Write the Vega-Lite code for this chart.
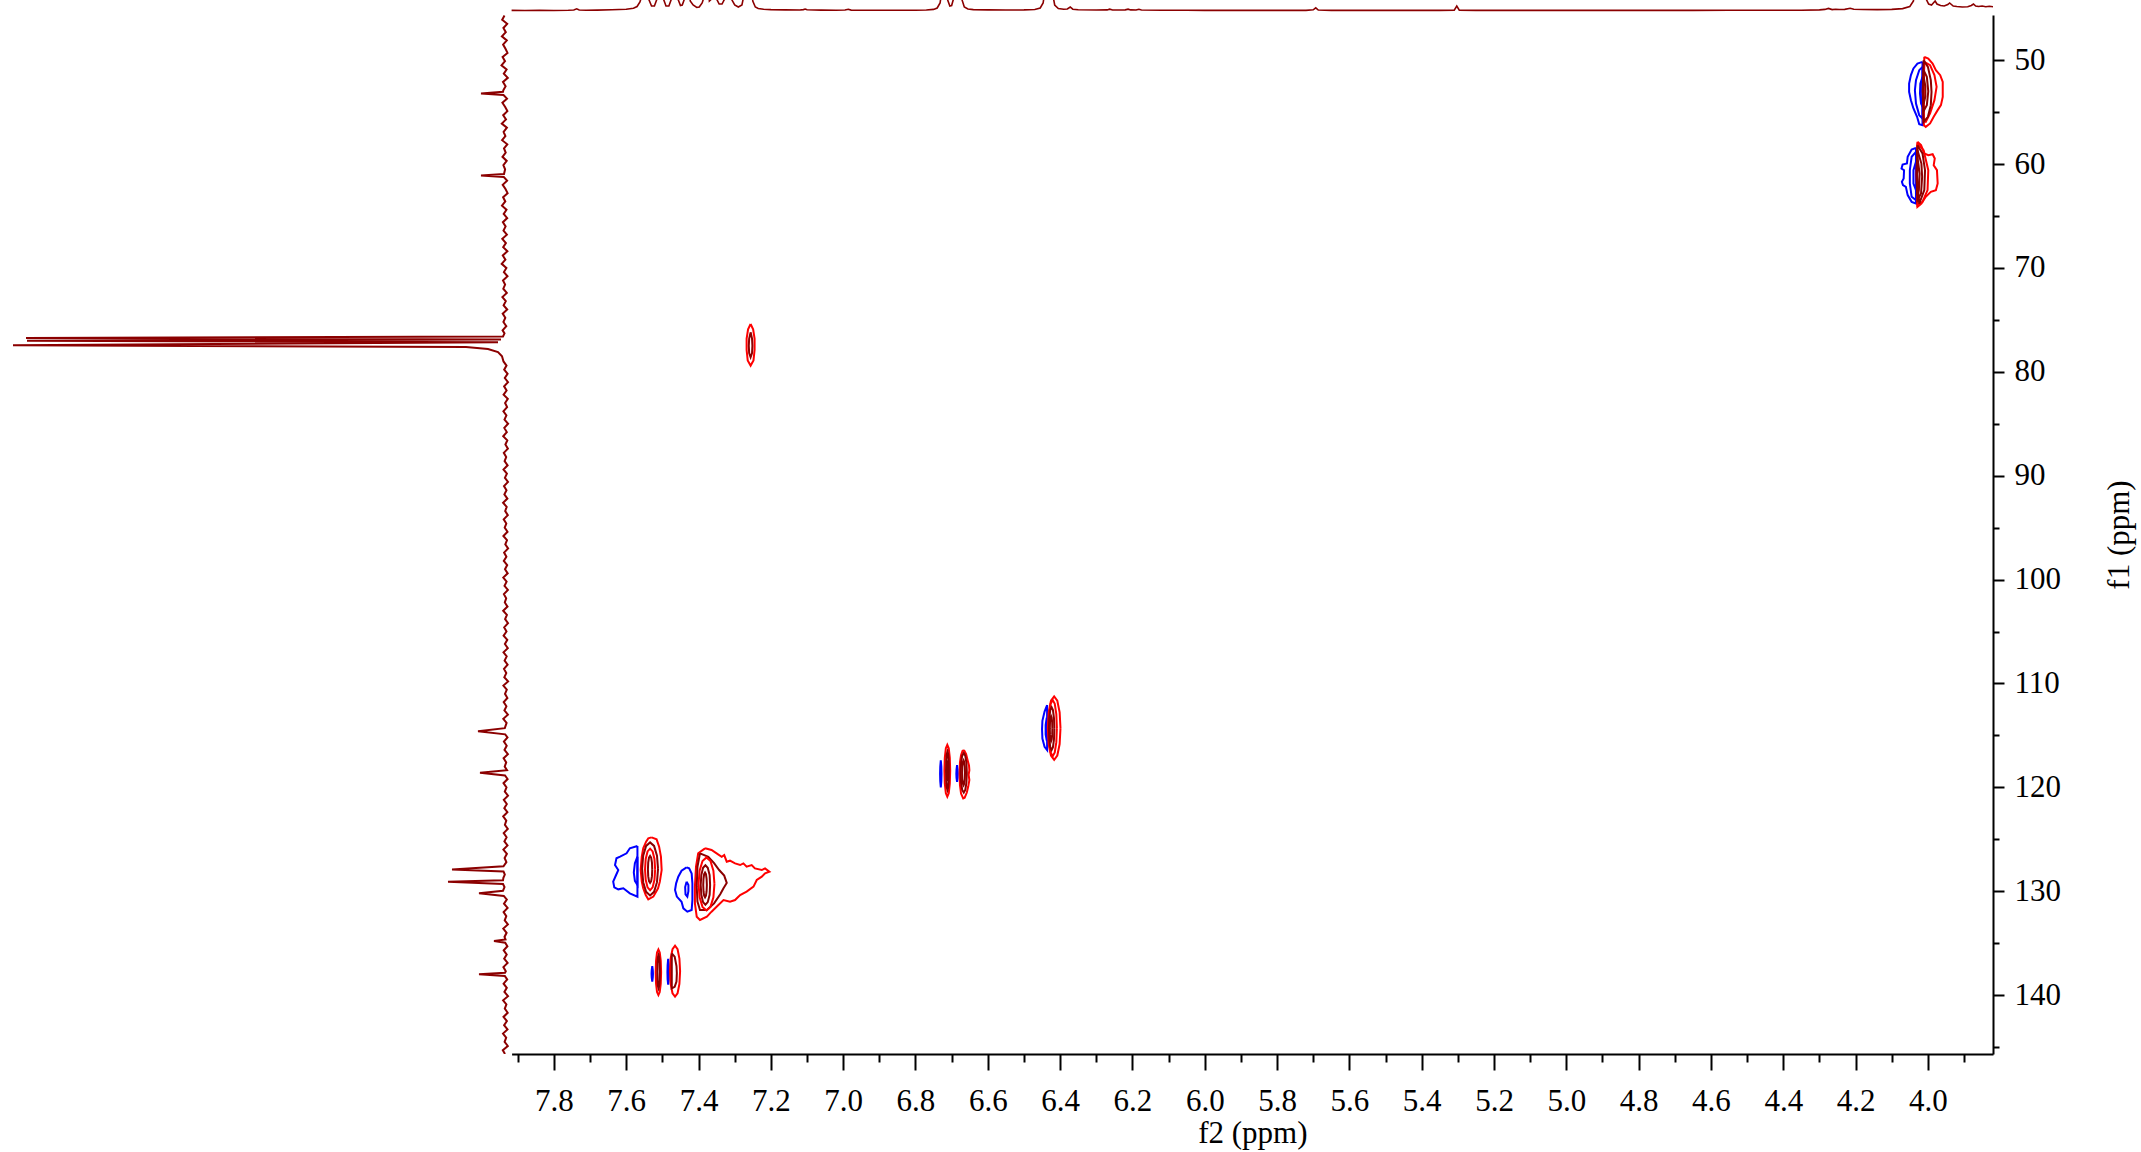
{
"$schema": "https://vega.github.io/schema/vega-lite/v6.json",
"width": 1993, "height": 1054,
"autosize": {"type": "none"},
"padding": {"left": 0, "top": 0, "right": 148, "bottom": 98},
"background": "white",
"config": {"view": {"stroke": null}, "font": "Liberation Serif"},
"datasets": {
"top": [
{"x":7.917,"v":0.6},{"x":7.88,"v":0.5},{"x":7.84,"v":0.6},{"x":7.80,"v":0.5},{"x":7.76,"v":0.7},{"x":7.745,"v":1.0},{"x":7.737,"v":2.2},{"x":7.73,"v":1.0},{"x":7.71,"v":0.8},{"x":7.68,"v":0.9},{"x":7.64,"v":1.2},{"x":7.60,"v":1.8},{"x":7.58,"v":2.8},{"x":7.57,"v":4.5},{"x":7.562,"v":9},{"x":7.553,"v":20},{"x":7.545,"v":45},{"x":7.538,"v":12},{"x":7.53,"v":5},{"x":7.522,"v":5},{"x":7.513,"v":14},{"x":7.505,"v":45},{"x":7.497,"v":12},{"x":7.49,"v":5},{"x":7.482,"v":5},{"x":7.473,"v":14},{"x":7.465,"v":45},{"x":7.457,"v":12},{"x":7.45,"v":5.5},{"x":7.445,"v":6},{"x":7.437,"v":14},{"x":7.43,"v":45},{"x":7.423,"v":10},{"x":7.415,"v":6},{"x":7.405,"v":3.5},{"x":7.398,"v":4},{"x":7.39,"v":8},{"x":7.383,"v":16},{"x":7.376,"v":45},{"x":7.37,"v":10},{"x":7.364,"v":12},{"x":7.357,"v":45},{"x":7.35,"v":12},{"x":7.343,"v":7},{"x":7.335,"v":7},{"x":7.325,"v":14},{"x":7.317,"v":45},{"x":7.309,"v":12},{"x":7.30,"v":6},{"x":7.29,"v":4},{"x":7.28,"v":6},{"x":7.272,"v":20},{"x":7.266,"v":60},{"x":7.261,"v":30},{"x":7.257,"v":50},{"x":7.25,"v":10},{"x":7.243,"v":4},{"x":7.235,"v":2.5},{"x":7.22,"v":1.8},{"x":7.20,"v":1.4},{"x":7.16,"v":1.1},{"x":7.12,"v":1.0},{"x":7.11,"v":1.4},{"x":7.105,"v":2.0},{"x":7.10,"v":1.2},{"x":7.06,"v":0.9},{"x":7.02,"v":0.8},{"x":6.995,"v":1.0},{"x":6.986,"v":1.7},{"x":6.978,"v":0.9},{"x":6.95,"v":0.7},{"x":6.90,"v":0.7},{"x":6.85,"v":0.7},{"x":6.80,"v":0.8},{"x":6.77,"v":1.0},{"x":6.75,"v":1.6},{"x":6.74,"v":3},{"x":6.732,"v":8},{"x":6.725,"v":25},{"x":6.719,"v":45},{"x":6.712,"v":12},{"x":6.705,"v":5},{"x":6.70,"v":5.5},{"x":6.695,"v":12},{"x":6.689,"v":45},{"x":6.683,"v":20},{"x":6.678,"v":45},{"x":6.672,"v":12},{"x":6.665,"v":4},{"x":6.655,"v":2},{"x":6.64,"v":1.4},{"x":6.60,"v":1.1},{"x":6.55,"v":1.0},{"x":6.50,"v":1.1},{"x":6.47,"v":1.5},{"x":6.455,"v":3},{"x":6.447,"v":8},{"x":6.44,"v":25},{"x":6.434,"v":45},{"x":6.428,"v":45},{"x":6.422,"v":20},{"x":6.415,"v":6},{"x":6.405,"v":2.5},{"x":6.39,"v":1.8},{"x":6.38,"v":2},{"x":6.372,"v":4},{"x":6.365,"v":1.8},{"x":6.35,"v":1.2},{"x":6.30,"v":1.0},{"x":6.27,"v":1.1},{"x":6.263,"v":1.8},{"x":6.255,"v":1.0},{"x":6.22,"v":1.1},{"x":6.212,"v":1.8},{"x":6.205,"v":1.1},{"x":6.19,"v":1.0},{"x":6.182,"v":1.7},{"x":6.175,"v":1.0},{"x":6.12,"v":0.8},{"x":6.05,"v":0.7},{"x":6.00,"v":0.6},{"x":5.90,"v":0.6},{"x":5.80,"v":0.6},{"x":5.72,"v":0.6},{"x":5.70,"v":1.2},{"x":5.693,"v":3.2},{"x":5.686,"v":1.0},{"x":5.65,"v":0.6},{"x":5.55,"v":0.6},{"x":5.45,"v":0.6},{"x":5.35,"v":0.6},{"x":5.31,"v":0.9},{"x":5.303,"v":5},{"x":5.296,"v":0.9},{"x":5.25,"v":0.6},{"x":5.15,"v":0.6},{"x":5.05,"v":0.6},{"x":4.95,"v":0.6},{"x":4.85,"v":0.6},{"x":4.75,"v":0.6},{"x":4.65,"v":0.6},{"x":4.55,"v":0.7},{"x":4.45,"v":0.7},{"x":4.35,"v":0.8},{"x":4.30,"v":1.1},{"x":4.285,"v":1.6},{"x":4.275,"v":2.6},{"x":4.265,"v":1.4},{"x":4.255,"v":1.8},{"x":4.245,"v":1.5},{"x":4.23,"v":1.6},{"x":4.215,"v":2.8},{"x":4.205,"v":1.8},{"x":4.18,"v":1.5},{"x":4.14,"v":1.4},{"x":4.10,"v":1.6},{"x":4.07,"v":2.4},{"x":4.05,"v":4.5},{"x":4.04,"v":10},{"x":4.033,"v":45},{"x":4.027,"v":30},{"x":4.02,"v":45},{"x":4.012,"v":60},{"x":4.005,"v":12},{"x":3.998,"v":7},{"x":3.99,"v":6},{"x":3.985,"v":8},{"x":3.98,"v":10},{"x":3.975,"v":7},{"x":3.965,"v":5.5},{"x":3.955,"v":5},{"x":3.945,"v":6.5},{"x":3.94,"v":8},{"x":3.93,"v":5},{"x":3.92,"v":4.5},{"x":3.905,"v":4},{"x":3.89,"v":4.2},{"x":3.88,"v":5.5},{"x":3.874,"v":7},{"x":3.868,"v":5},{"x":3.86,"v":4.5},{"x":3.85,"v":5},{"x":3.84,"v":4.2},{"x":3.83,"v":4.8},{"x":3.82,"v":4.2}
],
"side": [
{"y":45.7,"v":1.5},{"y":46.1,"v":3.8},{"y":46.5,"v":-1.2},{"y":46.9,"v":2.6},{"y":47.3,"v":0.2},{"y":47.7,"v":4.1},{"y":48.1,"v":-0.8},{"y":48.5,"v":2.9},{"y":48.9,"v":0.5},{"y":49.3,"v":-1.5},{"y":49.7,"v":3.4},{"y":50.1,"v":1.0},{"y":50.5,"v":4.5},{"y":50.9,"v":-0.6},{"y":51.3,"v":2.2},{"y":51.7,"v":-1.8},{"y":52.1,"v":3.0},{"y":52.5,"v":0.4},{"y":52.9,"v":2.7},{"y":53.05,"v":3.0},{"y":53.2,"v":25},{"y":53.35,"v":2.5},{"y":53.7,"v":-1.0},{"y":54.1,"v":3.6},{"y":54.5,"v":0.8},{"y":54.9,"v":-1.4},{"y":55.3,"v":2.8},{"y":55.7,"v":0.0},{"y":56.1,"v":4.2},{"y":56.5,"v":-0.9},{"y":56.9,"v":2.4},{"y":57.3,"v":0.6},{"y":57.7,"v":3.9},{"y":58.1,"v":-1.3},{"y":58.5,"v":2.0},{"y":58.9,"v":0.3},{"y":59.3,"v":3.5},{"y":59.7,"v":-0.7},{"y":60.1,"v":2.6},{"y":60.5,"v":0.9},{"y":60.95,"v":2.0},{"y":61.1,"v":25},{"y":61.25,"v":2.2},{"y":61.6,"v":-1.1},{"y":62.0,"v":3.3},{"y":62.4,"v":0.5},{"y":62.8,"v":-1.6},{"y":63.2,"v":2.9},{"y":63.6,"v":0.7},{"y":64.0,"v":4.0},{"y":64.4,"v":-0.5},{"y":64.8,"v":2.3},{"y":65.2,"v":-1.2},{"y":65.6,"v":3.1},{"y":66.0,"v":0.4},{"y":66.4,"v":2.5},{"y":66.8,"v":-0.9},{"y":67.2,"v":3.7},{"y":67.6,"v":0.1},{"y":68.0,"v":2.8},{"y":68.4,"v":-1.4},{"y":68.8,"v":3.2},{"y":69.2,"v":0.6},{"y":69.6,"v":4.3},{"y":70.0,"v":-0.4},{"y":70.4,"v":2.1},{"y":70.8,"v":-1.5},{"y":71.2,"v":3.0},{"y":71.6,"v":0.9},{"y":72.0,"v":2.7},{"y":72.4,"v":-0.8},{"y":72.8,"v":3.6},{"y":73.2,"v":0.2},{"y":73.6,"v":2.4},{"y":74.0,"v":-1.2},{"y":74.4,"v":3.3},{"y":74.8,"v":0.7},{"y":75.2,"v":2.6},{"y":75.6,"v":-0.3},{"y":76.0,"v":3.4},{"y":76.3,"v":1.5},{"y":76.6,"v":3},{"y":76.75,"v":480},{"y":76.9,"v":5},{"y":77.0,"v":479},{"y":77.15,"v":8},{"y":77.45,"v":493},{"y":77.6,"v":40},{"y":77.8,"v":18},{"y":78.1,"v":8},{"y":78.5,"v":4},{"y":79.0,"v":2.5},{"y":79.4,"v":-0.5},{"y":79.8,"v":1.8},{"y":80.2,"v":-1.6},{"y":80.6,"v":1.2},{"y":81.0,"v":-2.0},{"y":81.4,"v":1.9},{"y":81.8,"v":-0.6},{"y":82.2,"v":2.4},{"y":82.6,"v":-1.8},{"y":83.0,"v":0.9},{"y":83.4,"v":-1.1},{"y":83.8,"v":2.6},{"y":84.2,"v":-0.4},{"y":84.6,"v":1.5},{"y":85.0,"v":-2.1},{"y":85.4,"v":1.7},{"y":85.8,"v":-0.8},{"y":86.2,"v":2.8},{"y":86.6,"v":-1.3},{"y":87.0,"v":0.6},{"y":87.4,"v":-1.9},{"y":87.8,"v":2.2},{"y":88.2,"v":-0.2},{"y":88.6,"v":1.4},{"y":89.0,"v":-1.6},{"y":89.4,"v":2.5},{"y":89.8,"v":-0.9},{"y":90.2,"v":1.1},{"y":90.6,"v":-2.0},{"y":91.0,"v":2.0},{"y":91.4,"v":-0.5},{"y":91.8,"v":1.6},{"y":92.2,"v":-1.4},{"y":92.6,"v":2.9},{"y":93.0,"v":-0.7},{"y":93.4,"v":0.8},{"y":93.8,"v":-1.8},{"y":94.2,"v":2.3},{"y":94.6,"v":-0.3},{"y":95.0,"v":1.3},{"y":95.4,"v":-1.5},{"y":95.8,"v":2.6},{"y":96.2,"v":-1.0},{"y":96.6,"v":0.7},{"y":97.0,"v":-2.1},{"y":97.4,"v":1.9},{"y":97.8,"v":-0.4},{"y":98.2,"v":2.2},{"y":98.6,"v":-1.2},{"y":99.0,"v":1.0},{"y":99.4,"v":-1.7},{"y":99.8,"v":2.7},{"y":100.2,"v":-0.6},{"y":100.6,"v":1.5},{"y":101.0,"v":-1.9},{"y":101.4,"v":2.1},{"y":101.8,"v":-0.2},{"y":102.2,"v":1.2},{"y":102.6,"v":-1.5},{"y":103.0,"v":2.8},{"y":103.4,"v":-0.9},{"y":103.8,"v":0.9},{"y":104.2,"v":-2.0},{"y":104.6,"v":1.8},{"y":105.0,"v":-0.5},{"y":105.4,"v":2.4},{"y":105.8,"v":-1.3},{"y":106.2,"v":1.1},{"y":106.6,"v":-1.8},{"y":107.0,"v":2.5},{"y":107.4,"v":-0.7},{"y":107.8,"v":1.4},{"y":108.2,"v":-1.6},{"y":108.6,"v":2.0},{"y":109.0,"v":-0.3},{"y":109.4,"v":1.7},{"y":109.8,"v":-2.1},{"y":110.2,"v":2.6},{"y":110.6,"v":-0.8},{"y":111.0,"v":1.0},{"y":111.4,"v":-1.4},{"y":111.8,"v":2.3},{"y":112.2,"v":-0.4},{"y":112.6,"v":1.6},{"y":113.0,"v":-1.9},{"y":113.4,"v":2.7},{"y":113.8,"v":-0.6},{"y":114.3,"v":1.2},{"y":114.6,"v":28},{"y":114.9,"v":0.8},{"y":115.2,"v":-1.5},{"y":115.6,"v":2.1},{"y":116.0,"v":-0.7},{"y":116.4,"v":1.5},{"y":116.8,"v":-1.9},{"y":117.2,"v":2.4},{"y":117.6,"v":-0.2},{"y":118.0,"v":1.3},{"y":118.35,"v":-1.0},{"y":118.6,"v":26},{"y":118.85,"v":1.0},{"y":119.2,"v":-1.6},{"y":119.6,"v":2.5},{"y":120.0,"v":-0.5},{"y":120.4,"v":1.2},{"y":120.8,"v":-2.0},{"y":121.2,"v":2.2},{"y":121.6,"v":-0.8},{"y":122.0,"v":1.7},{"y":122.4,"v":-1.4},{"y":122.8,"v":2.8},{"y":123.2,"v":-0.3},{"y":123.6,"v":1.1},{"y":124.0,"v":-1.8},{"y":124.4,"v":2.3},{"y":124.8,"v":-0.6},{"y":125.2,"v":1.6},{"y":125.6,"v":-1.5},{"y":126.0,"v":2.6},{"y":126.4,"v":-0.9},{"y":126.8,"v":1.4},{"y":127.2,"v":-0.4},{"y":127.6,"v":2.5},{"y":127.9,"v":54},{"y":128.1,"v":2.5},{"y":128.4,"v":1.2},{"y":128.7,"v":2.6},{"y":128.95,"v":3},{"y":129.1,"v":58},{"y":129.3,"v":3},{"y":129.6,"v":1.5},{"y":129.95,"v":3},{"y":130.2,"v":27},{"y":130.45,"v":2.2},{"y":130.8,"v":-0.8},{"y":131.2,"v":2.0},{"y":131.6,"v":-1.6},{"y":132.0,"v":2.4},{"y":132.4,"v":-0.3},{"y":132.8,"v":1.3},{"y":133.2,"v":-1.9},{"y":133.6,"v":2.7},{"y":134.0,"v":-0.6},{"y":134.4,"v":1.5},{"y":134.65,"v":0.5},{"y":134.8,"v":12},{"y":134.95,"v":0.8},{"y":135.3,"v":-1.4},{"y":135.7,"v":2.3},{"y":136.1,"v":-0.7},{"y":136.5,"v":1.8},{"y":136.9,"v":-1.6},{"y":137.3,"v":2.6},{"y":137.7,"v":0.2},{"y":137.85,"v":1.0},{"y":138.0,"v":27},{"y":138.15,"v":1.2},{"y":138.5,"v":-1.2},{"y":138.9,"v":2.4},{"y":139.3,"v":-0.8},{"y":139.7,"v":1.6},{"y":140.1,"v":-2.0},{"y":140.5,"v":2.9},{"y":140.9,"v":-0.4},{"y":141.3,"v":1.2},{"y":141.7,"v":-1.7},{"y":142.1,"v":2.5},{"y":142.5,"v":-0.9},{"y":142.9,"v":1.9},{"y":143.3,"v":-1.5},{"y":143.7,"v":3.0},{"y":144.1,"v":-0.2},{"y":144.5,"v":1.4},{"y":144.9,"v":-1.8},{"y":145.3,"v":3.2},{"y":145.67,"v":1.0}
],
"contours": [
{"c":"B1o","l":"neg","x":4.015,"y":50.16},{"c":"B1o","l":"neg","x":4.029,"y":50.32},{"c":"B1o","l":"neg","x":4.040,"y":50.80},{"c":"B1o","l":"neg","x":4.047,"y":51.44},{"c":"B1o","l":"neg","x":4.052,"y":52.25},{"c":"B1o","l":"neg","x":4.052,"y":53.05},{"c":"B1o","l":"neg","x":4.047,"y":53.85},{"c":"B1o","l":"neg","x":4.040,"y":54.65},{"c":"B1o","l":"neg","x":4.030,"y":55.45},{"c":"B1o","l":"neg","x":4.024,"y":56.16},{"c":"B1o","l":"neg","x":4.015,"y":56.26},{"c":"B1o","l":"neg","x":4.015,"y":50.16},
{"c":"B1m","l":"neg","x":4.015,"y":50.64},{"c":"B1m","l":"neg","x":4.024,"y":50.96},{"c":"B1m","l":"neg","x":4.033,"y":51.92},{"c":"B1m","l":"neg","x":4.036,"y":52.89},{"c":"B1m","l":"neg","x":4.033,"y":54.17},{"c":"B1m","l":"neg","x":4.024,"y":55.29},{"c":"B1m","l":"neg","x":4.015,"y":55.61},{"c":"B1m","l":"neg","x":4.015,"y":50.64},
{"c":"B1i","l":"neg","x":4.015,"y":51.60},{"c":"B1i","l":"neg","x":4.021,"y":52.25},{"c":"B1i","l":"neg","x":4.022,"y":53.21},{"c":"B1i","l":"neg","x":4.019,"y":54.17},{"c":"B1i","l":"neg","x":4.015,"y":54.49},{"c":"B1i","l":"neg","x":4.015,"y":51.60},
{"c":"R1o","l":"pos","x":4.010,"y":49.68},{"c":"R1o","l":"pos","x":3.999,"y":49.84},{"c":"R1o","l":"pos","x":3.987,"y":50.32},{"c":"R1o","l":"pos","x":3.978,"y":50.96},{"c":"R1o","l":"pos","x":3.966,"y":51.44},{"c":"R1o","l":"pos","x":3.959,"y":52.09},{"c":"R1o","l":"pos","x":3.959,"y":53.53},{"c":"R1o","l":"pos","x":3.964,"y":54.33},{"c":"R1o","l":"pos","x":3.973,"y":54.81},{"c":"R1o","l":"pos","x":3.984,"y":55.45},{"c":"R1o","l":"pos","x":3.994,"y":56.09},{"c":"R1o","l":"pos","x":4.006,"y":56.42},{"c":"R1o","l":"pos","x":4.011,"y":56.26},{"c":"R1o","l":"pos","x":4.012,"y":53.0},{"c":"R1o","l":"pos","x":4.010,"y":49.68},
{"c":"R1m","l":"pos","x":4.010,"y":50.16},{"c":"R1m","l":"pos","x":3.994,"y":50.48},{"c":"R1m","l":"pos","x":3.982,"y":51.44},{"c":"R1m","l":"pos","x":3.976,"y":52.57},{"c":"R1m","l":"pos","x":3.982,"y":53.85},{"c":"R1m","l":"pos","x":3.994,"y":55.13},{"c":"R1m","l":"pos","x":4.006,"y":55.93},{"c":"R1m","l":"pos","x":4.012,"y":55.90},{"c":"R1m","l":"pos","x":4.012,"y":53.0},{"c":"R1m","l":"pos","x":4.010,"y":50.16},
{"c":"D1a","l":"pos2","x":4.012,"y":50.0},{"c":"D1a","l":"pos2","x":4.000,"y":50.64},{"c":"D1a","l":"pos2","x":3.992,"y":51.92},{"c":"D1a","l":"pos2","x":3.990,"y":53.05},{"c":"D1a","l":"pos2","x":3.992,"y":54.33},{"c":"D1a","l":"pos2","x":4.000,"y":55.45},{"c":"D1a","l":"pos2","x":4.012,"y":55.93},{"c":"D1a","l":"pos2","x":4.014,"y":53.0},{"c":"D1a","l":"pos2","x":4.012,"y":50.0},
{"c":"D1b","l":"pos2","x":4.012,"y":50.96},{"c":"D1b","l":"pos2","x":4.003,"y":51.60},{"c":"D1b","l":"pos2","x":3.999,"y":53.0},{"c":"D1b","l":"pos2","x":4.003,"y":54.33},{"c":"D1b","l":"pos2","x":4.012,"y":54.90},{"c":"D1b","l":"pos2","x":4.014,"y":53.0},{"c":"D1b","l":"pos2","x":4.012,"y":50.96},
{"c":"D1c","l":"pos2","x":4.012,"y":51.60},{"c":"D1c","l":"pos2","x":4.007,"y":52.5},{"c":"D1c","l":"pos2","x":4.007,"y":53.5},{"c":"D1c","l":"pos2","x":4.012,"y":54.2},{"c":"D1c","l":"pos2","x":4.014,"y":53.0},{"c":"D1c","l":"pos2","x":4.012,"y":51.60},
{"c":"B2o","l":"neg","x":4.033,"y":58.44},{"c":"B2o","l":"neg","x":4.045,"y":58.60},{"c":"B2o","l":"neg","x":4.056,"y":59.30},{"c":"B2o","l":"neg","x":4.058,"y":59.95},{"c":"B2o","l":"neg","x":4.070,"y":60.04},{"c":"B2o","l":"neg","x":4.073,"y":60.43},{"c":"B2o","l":"neg","x":4.066,"y":60.59},{"c":"B2o","l":"neg","x":4.067,"y":61.39},{"c":"B2o","l":"neg","x":4.072,"y":61.71},{"c":"B2o","l":"neg","x":4.069,"y":62.03},{"c":"B2o","l":"neg","x":4.061,"y":62.19},{"c":"B2o","l":"neg","x":4.056,"y":62.99},{"c":"B2o","l":"neg","x":4.045,"y":63.64},{"c":"B2o","l":"neg","x":4.033,"y":63.80},{"c":"B2o","l":"neg","x":4.033,"y":58.44},
{"c":"B2m","l":"neg","x":4.033,"y":58.82},{"c":"B2m","l":"neg","x":4.045,"y":59.30},{"c":"B2m","l":"neg","x":4.050,"y":60.59},{"c":"B2m","l":"neg","x":4.050,"y":61.87},{"c":"B2m","l":"neg","x":4.045,"y":63.15},{"c":"B2m","l":"neg","x":4.033,"y":63.47},{"c":"B2m","l":"neg","x":4.033,"y":58.82},
{"c":"B2i","l":"neg","x":4.033,"y":59.79},{"c":"B2i","l":"neg","x":4.040,"y":60.59},{"c":"B2i","l":"neg","x":4.040,"y":61.87},{"c":"B2i","l":"neg","x":4.033,"y":62.51},{"c":"B2i","l":"neg","x":4.033,"y":59.79},
{"c":"R2o","l":"pos","x":4.029,"y":57.86},{"c":"R2o","l":"pos","x":4.019,"y":58.18},{"c":"R2o","l":"pos","x":4.010,"y":58.98},{"c":"R2o","l":"pos","x":3.999,"y":59.14},{"c":"R2o","l":"pos","x":3.987,"y":59.05},{"c":"R2o","l":"pos","x":3.981,"y":59.46},{"c":"R2o","l":"pos","x":3.984,"y":60.11},{"c":"R2o","l":"pos","x":3.975,"y":60.59},{"c":"R2o","l":"pos","x":3.973,"y":61.87},{"c":"R2o","l":"pos","x":3.978,"y":62.51},{"c":"R2o","l":"pos","x":3.992,"y":62.67},{"c":"R2o","l":"pos","x":4.006,"y":63.15},{"c":"R2o","l":"pos","x":4.018,"y":63.80},{"c":"R2o","l":"pos","x":4.029,"y":64.12},{"c":"R2o","l":"pos","x":4.031,"y":61.0},{"c":"R2o","l":"pos","x":4.029,"y":57.86},
{"c":"R2m","l":"pos","x":4.029,"y":58.02},{"c":"R2m","l":"pos","x":4.012,"y":58.66},{"c":"R2m","l":"pos","x":3.999,"y":60.59},{"c":"R2m","l":"pos","x":4.001,"y":62.51},{"c":"R2m","l":"pos","x":4.015,"y":63.64},{"c":"R2m","l":"pos","x":4.029,"y":63.96},{"c":"R2m","l":"pos","x":4.031,"y":61.0},{"c":"R2m","l":"pos","x":4.029,"y":58.02},
{"c":"D2a","l":"pos2","x":4.029,"y":58.18},{"c":"D2a","l":"pos2","x":4.015,"y":58.98},{"c":"D2a","l":"pos2","x":4.008,"y":60.59},{"c":"D2a","l":"pos2","x":4.010,"y":62.51},{"c":"D2a","l":"pos2","x":4.024,"y":63.80},{"c":"D2a","l":"pos2","x":4.031,"y":61.0},{"c":"D2a","l":"pos2","x":4.029,"y":58.18},
{"c":"D2b","l":"pos2","x":4.029,"y":58.66},{"c":"D2b","l":"pos2","x":4.018,"y":59.95},{"c":"D2b","l":"pos2","x":4.016,"y":61.23},{"c":"D2b","l":"pos2","x":4.019,"y":62.83},{"c":"D2b","l":"pos2","x":4.029,"y":63.47},{"c":"D2b","l":"pos2","x":4.031,"y":61.0},{"c":"D2b","l":"pos2","x":4.029,"y":58.66},
{"c":"D2c","l":"pos2","x":4.029,"y":59.30},{"c":"D2c","l":"pos2","x":4.023,"y":60.91},{"c":"D2c","l":"pos2","x":4.025,"y":62.51},{"c":"D2c","l":"pos2","x":4.029,"y":62.99},{"c":"D2c","l":"pos2","x":4.030,"y":61.0},{"c":"D2c","l":"pos2","x":4.029,"y":59.30},
{"c":"R3o","l":"pos","x":7.256,"y":75.4},{"c":"R3o","l":"pos","x":7.263,"y":75.9},{"c":"R3o","l":"pos","x":7.267,"y":76.8},{"c":"R3o","l":"pos","x":7.267,"y":77.9},{"c":"R3o","l":"pos","x":7.264,"y":78.9},{"c":"R3o","l":"pos","x":7.256,"y":79.4},{"c":"R3o","l":"pos","x":7.248,"y":78.9},{"c":"R3o","l":"pos","x":7.245,"y":77.9},{"c":"R3o","l":"pos","x":7.245,"y":76.8},{"c":"R3o","l":"pos","x":7.249,"y":75.9},{"c":"R3o","l":"pos","x":7.256,"y":75.4},
{"c":"R3i","l":"pos2","x":7.256,"y":76.2},{"c":"R3i","l":"pos2","x":7.260,"y":76.8},{"c":"R3i","l":"pos2","x":7.261,"y":77.5},{"c":"R3i","l":"pos2","x":7.260,"y":78.2},{"c":"R3i","l":"pos2","x":7.256,"y":78.6},{"c":"R3i","l":"pos2","x":7.252,"y":78.2},{"c":"R3i","l":"pos2","x":7.251,"y":77.5},{"c":"R3i","l":"pos2","x":7.252,"y":76.8},{"c":"R3i","l":"pos2","x":7.256,"y":76.2},
{"c":"B4o","l":"neg","x":6.436,"y":112.08},{"c":"B4o","l":"neg","x":6.443,"y":112.7},{"c":"B4o","l":"neg","x":6.449,"y":113.6},{"c":"B4o","l":"neg","x":6.450,"y":114.4},{"c":"B4o","l":"neg","x":6.449,"y":115.3},{"c":"B4o","l":"neg","x":6.443,"y":116.1},{"c":"B4o","l":"neg","x":6.436,"y":116.41},{"c":"B4o","l":"neg","x":6.436,"y":112.08},
{"c":"B4i","l":"neg","x":6.437,"y":113.3},{"c":"B4i","l":"neg","x":6.440,"y":114.0},{"c":"B4i","l":"neg","x":6.440,"y":114.9},{"c":"B4i","l":"neg","x":6.437,"y":115.5},{"c":"B4i","l":"neg","x":6.436,"y":114.4},{"c":"B4i","l":"neg","x":6.437,"y":113.3},
{"c":"R4o","l":"pos","x":6.399,"y":114.3},{"c":"R4o","l":"pos","x":6.4013,"y":115.83},{"c":"R4o","l":"pos","x":6.4078,"y":116.94},{"c":"R4o","l":"pos","x":6.4165,"y":117.35},{"c":"R4o","l":"pos","x":6.4253,"y":116.94},{"c":"R4o","l":"pos","x":6.4317,"y":115.83},{"c":"R4o","l":"pos","x":6.434,"y":114.3},{"c":"R4o","l":"pos","x":6.4317,"y":112.78},{"c":"R4o","l":"pos","x":6.4253,"y":111.66},{"c":"R4o","l":"pos","x":6.4165,"y":111.25},{"c":"R4o","l":"pos","x":6.4078,"y":111.66},{"c":"R4o","l":"pos","x":6.4013,"y":112.78},{"c":"R4o","l":"pos","x":6.399,"y":114.3},
{"c":"R4m","l":"pos","x":6.409,"y":114.3},{"c":"R4m","l":"pos","x":6.4105,"y":115.65},{"c":"R4m","l":"pos","x":6.4148,"y":116.64},{"c":"R4m","l":"pos","x":6.4205,"y":117.0},{"c":"R4m","l":"pos","x":6.4263,"y":116.64},{"c":"R4m","l":"pos","x":6.4305,"y":115.65},{"c":"R4m","l":"pos","x":6.432,"y":114.3},{"c":"R4m","l":"pos","x":6.4305,"y":112.95},{"c":"R4m","l":"pos","x":6.4263,"y":111.96},{"c":"R4m","l":"pos","x":6.4205,"y":111.6},{"c":"R4m","l":"pos","x":6.4148,"y":111.96},{"c":"R4m","l":"pos","x":6.4105,"y":112.95},{"c":"R4m","l":"pos","x":6.409,"y":114.3},
{"c":"D4a","l":"pos2","x":6.416,"y":114.35},{"c":"D4a","l":"pos2","x":6.417,"y":115.38},{"c":"D4a","l":"pos2","x":6.4198,"y":116.13},{"c":"D4a","l":"pos2","x":6.4235,"y":116.4},{"c":"D4a","l":"pos2","x":6.4273,"y":116.13},{"c":"D4a","l":"pos2","x":6.43,"y":115.38},{"c":"D4a","l":"pos2","x":6.431,"y":114.35},{"c":"D4a","l":"pos2","x":6.43,"y":113.33},{"c":"D4a","l":"pos2","x":6.4273,"y":112.57},{"c":"D4a","l":"pos2","x":6.4235,"y":112.3},{"c":"D4a","l":"pos2","x":6.4198,"y":112.57},{"c":"D4a","l":"pos2","x":6.417,"y":113.33},{"c":"D4a","l":"pos2","x":6.416,"y":114.35},
{"c":"D4b","l":"pos2","x":6.4215,"y":114.35},{"c":"D4b","l":"pos2","x":6.422,"y":114.95},{"c":"D4b","l":"pos2","x":6.4233,"y":115.39},{"c":"D4b","l":"pos2","x":6.425,"y":115.55},{"c":"D4b","l":"pos2","x":6.4268,"y":115.39},{"c":"D4b","l":"pos2","x":6.428,"y":114.95},{"c":"D4b","l":"pos2","x":6.4285,"y":114.35},{"c":"D4b","l":"pos2","x":6.428,"y":113.75},{"c":"D4b","l":"pos2","x":6.4268,"y":113.31},{"c":"D4b","l":"pos2","x":6.425,"y":113.15},{"c":"D4b","l":"pos2","x":6.4233,"y":113.31},{"c":"D4b","l":"pos2","x":6.422,"y":113.75},{"c":"D4b","l":"pos2","x":6.4215,"y":114.35},
{"c":"B5a","l":"neg","x":6.730,"y":117.4},{"c":"B5a","l":"neg","x":6.7315,"y":118.0},{"c":"B5a","l":"neg","x":6.732,"y":118.7},{"c":"B5a","l":"neg","x":6.7315,"y":119.4},{"c":"B5a","l":"neg","x":6.730,"y":120.0},{"c":"B5a","l":"neg","x":6.7285,"y":119.4},{"c":"B5a","l":"neg","x":6.728,"y":118.7},{"c":"B5a","l":"neg","x":6.7285,"y":118.0},{"c":"B5a","l":"neg","x":6.730,"y":117.4},
{"c":"R5a","l":"pos","x":6.704,"y":118.4},{"c":"R5a","l":"pos","x":6.7051,"y":119.65},{"c":"R5a","l":"pos","x":6.708,"y":120.57},{"c":"R5a","l":"pos","x":6.712,"y":120.9},{"c":"R5a","l":"pos","x":6.716,"y":120.57},{"c":"R5a","l":"pos","x":6.7189,"y":119.65},{"c":"R5a","l":"pos","x":6.720,"y":118.4},{"c":"R5a","l":"pos","x":6.7189,"y":117.15},{"c":"R5a","l":"pos","x":6.716,"y":116.23},{"c":"R5a","l":"pos","x":6.712,"y":115.9},{"c":"R5a","l":"pos","x":6.708,"y":116.23},{"c":"R5a","l":"pos","x":6.7051,"y":117.15},{"c":"R5a","l":"pos","x":6.704,"y":118.4},
{"c":"D5a","l":"pos2","x":6.7075,"y":118.4},{"c":"D5a","l":"pos2","x":6.708,"y":119.33},{"c":"D5a","l":"pos2","x":6.7095,"y":120.0},{"c":"D5a","l":"pos2","x":6.7115,"y":120.25},{"c":"D5a","l":"pos2","x":6.7135,"y":120.0},{"c":"D5a","l":"pos2","x":6.715,"y":119.33},{"c":"D5a","l":"pos2","x":6.7155,"y":118.4},{"c":"D5a","l":"pos2","x":6.715,"y":117.48},{"c":"D5a","l":"pos2","x":6.7135,"y":116.8},{"c":"D5a","l":"pos2","x":6.7115,"y":116.55},{"c":"D5a","l":"pos2","x":6.7095,"y":116.8},{"c":"D5a","l":"pos2","x":6.708,"y":117.48},{"c":"D5a","l":"pos2","x":6.7075,"y":118.4},
{"c":"D5a2","l":"pos2","x":6.710,"y":118.4},{"c":"D5a2","l":"pos2","x":6.7105,"y":119.1},{"c":"D5a2","l":"pos2","x":6.7115,"y":119.4},{"c":"D5a2","l":"pos2","x":6.7125,"y":119.1},{"c":"D5a2","l":"pos2","x":6.713,"y":118.4},{"c":"D5a2","l":"pos2","x":6.7125,"y":117.7},{"c":"D5a2","l":"pos2","x":6.7115,"y":117.4},{"c":"D5a2","l":"pos2","x":6.7105,"y":117.7},{"c":"D5a2","l":"pos2","x":6.710,"y":118.4},
{"c":"B5b","l":"neg","x":6.685,"y":117.85},{"c":"B5b","l":"neg","x":6.6865,"y":118.3},{"c":"B5b","l":"neg","x":6.687,"y":118.7},{"c":"B5b","l":"neg","x":6.6865,"y":119.1},{"c":"B5b","l":"neg","x":6.685,"y":119.46},{"c":"B5b","l":"neg","x":6.6835,"y":119.1},{"c":"B5b","l":"neg","x":6.683,"y":118.7},{"c":"B5b","l":"neg","x":6.6835,"y":118.3},{"c":"B5b","l":"neg","x":6.685,"y":117.85},
{"c":"R5b","l":"pos","x":6.666,"y":116.41},{"c":"R5b","l":"pos","x":6.660,"y":116.8},{"c":"R5b","l":"pos","x":6.656,"y":117.37},{"c":"R5b","l":"pos","x":6.652,"y":117.9},{"c":"R5b","l":"pos","x":6.651,"y":118.34},{"c":"R5b","l":"pos","x":6.653,"y":118.8},{"c":"R5b","l":"pos","x":6.651,"y":119.3},{"c":"R5b","l":"pos","x":6.654,"y":119.9},{"c":"R5b","l":"pos","x":6.658,"y":120.5},{"c":"R5b","l":"pos","x":6.664,"y":121.0},{"c":"R5b","l":"pos","x":6.668,"y":121.06},{"c":"R5b","l":"pos","x":6.674,"y":120.6},{"c":"R5b","l":"pos","x":6.677,"y":119.8},{"c":"R5b","l":"pos","x":6.678,"y":118.7},{"c":"R5b","l":"pos","x":6.677,"y":117.6},{"c":"R5b","l":"pos","x":6.674,"y":116.9},{"c":"R5b","l":"pos","x":6.670,"y":116.5},{"c":"R5b","l":"pos","x":6.666,"y":116.41},
{"c":"D5ba","l":"pos2","x":6.658,"y":118.6},{"c":"D5ba","l":"pos2","x":6.6591,"y":119.55},{"c":"D5ba","l":"pos2","x":6.6623,"y":120.25},{"c":"D5ba","l":"pos2","x":6.6665,"y":120.5},{"c":"D5ba","l":"pos2","x":6.6708,"y":120.25},{"c":"D5ba","l":"pos2","x":6.6739,"y":119.55},{"c":"D5ba","l":"pos2","x":6.675,"y":118.6},{"c":"D5ba","l":"pos2","x":6.6739,"y":117.65},{"c":"D5ba","l":"pos2","x":6.6708,"y":116.95},{"c":"D5ba","l":"pos2","x":6.6665,"y":116.7},{"c":"D5ba","l":"pos2","x":6.6623,"y":116.95},{"c":"D5ba","l":"pos2","x":6.6591,"y":117.65},{"c":"D5ba","l":"pos2","x":6.658,"y":118.6},
{"c":"D5bb","l":"pos2","x":6.663,"y":118.6},{"c":"D5bb","l":"pos2","x":6.6635,"y":119.2},{"c":"D5bb","l":"pos2","x":6.665,"y":119.64},{"c":"D5bb","l":"pos2","x":6.667,"y":119.8},{"c":"D5bb","l":"pos2","x":6.669,"y":119.64},{"c":"D5bb","l":"pos2","x":6.6705,"y":119.2},{"c":"D5bb","l":"pos2","x":6.671,"y":118.6},{"c":"D5bb","l":"pos2","x":6.6705,"y":118.0},{"c":"D5bb","l":"pos2","x":6.669,"y":117.56},{"c":"D5bb","l":"pos2","x":6.667,"y":117.4},{"c":"D5bb","l":"pos2","x":6.665,"y":117.56},{"c":"D5bb","l":"pos2","x":6.6635,"y":118.0},{"c":"D5bb","l":"pos2","x":6.663,"y":118.6},
{"c":"B6o","l":"neg","x":7.569,"y":125.65},{"c":"B6o","l":"neg","x":7.590,"y":125.87},{"c":"B6o","l":"neg","x":7.599,"y":126.35},{"c":"B6o","l":"neg","x":7.617,"y":126.67},{"c":"B6o","l":"neg","x":7.627,"y":126.83},{"c":"B6o","l":"neg","x":7.631,"y":127.48},{"c":"B6o","l":"neg","x":7.622,"y":127.96},{"c":"B6o","l":"neg","x":7.628,"y":128.44},{"c":"B6o","l":"neg","x":7.636,"y":129.08},{"c":"B6o","l":"neg","x":7.633,"y":129.63},{"c":"B6o","l":"neg","x":7.622,"y":129.82},{"c":"B6o","l":"neg","x":7.608,"y":129.72},{"c":"B6o","l":"neg","x":7.590,"y":130.20},{"c":"B6o","l":"neg","x":7.569,"y":130.52},{"c":"B6o","l":"neg","x":7.569,"y":125.65},
{"c":"B6i","l":"neg","x":7.569,"y":126.67},{"c":"B6i","l":"neg","x":7.576,"y":127.3},{"c":"B6i","l":"neg","x":7.579,"y":128.2},{"c":"B6i","l":"neg","x":7.576,"y":129.0},{"c":"B6i","l":"neg","x":7.569,"y":129.4},{"c":"B6i","l":"neg","x":7.569,"y":126.67},
{"c":"R6o","l":"pos","x":7.530,"y":124.82},{"c":"R6o","l":"pos","x":7.516,"y":125.01},{"c":"R6o","l":"pos","x":7.509,"y":125.71},{"c":"R6o","l":"pos","x":7.504,"y":126.67},{"c":"R6o","l":"pos","x":7.502,"y":127.96},{"c":"R6o","l":"pos","x":7.507,"y":129.08},{"c":"R6o","l":"pos","x":7.512,"y":129.72},{"c":"R6o","l":"pos","x":7.525,"y":130.52},{"c":"R6o","l":"pos","x":7.539,"y":130.78},{"c":"R6o","l":"pos","x":7.546,"y":130.36},{"c":"R6o","l":"pos","x":7.553,"y":129.72},{"c":"R6o","l":"pos","x":7.557,"y":129.08},{"c":"R6o","l":"pos","x":7.560,"y":127.96},{"c":"R6o","l":"pos","x":7.557,"y":126.67},{"c":"R6o","l":"pos","x":7.553,"y":125.87},{"c":"R6o","l":"pos","x":7.545,"y":125.23},{"c":"R6o","l":"pos","x":7.539,"y":124.91},{"c":"R6o","l":"pos","x":7.530,"y":124.82},
{"c":"D6a","l":"pos2","x":7.512,"y":127.85},{"c":"D6a","l":"pos2","x":7.5149,"y":129.13},{"c":"D6a","l":"pos2","x":7.523,"y":130.06},{"c":"D6a","l":"pos2","x":7.534,"y":130.4},{"c":"D6a","l":"pos2","x":7.545,"y":130.06},{"c":"D6a","l":"pos2","x":7.5531,"y":129.13},{"c":"D6a","l":"pos2","x":7.556,"y":127.85},{"c":"D6a","l":"pos2","x":7.5531,"y":126.58},{"c":"D6a","l":"pos2","x":7.545,"y":125.64},{"c":"D6a","l":"pos2","x":7.534,"y":125.3},{"c":"D6a","l":"pos2","x":7.523,"y":125.64},{"c":"D6a","l":"pos2","x":7.5149,"y":126.58},{"c":"D6a","l":"pos2","x":7.512,"y":127.85},
{"c":"R6b","l":"pos","x":7.520,"y":127.9},{"c":"R6b","l":"pos","x":7.5219,"y":128.9},{"c":"R6b","l":"pos","x":7.527,"y":129.63},{"c":"R6b","l":"pos","x":7.534,"y":129.9},{"c":"R6b","l":"pos","x":7.541,"y":129.63},{"c":"R6b","l":"pos","x":7.5461,"y":128.9},{"c":"R6b","l":"pos","x":7.548,"y":127.9},{"c":"R6b","l":"pos","x":7.5461,"y":126.9},{"c":"R6b","l":"pos","x":7.541,"y":126.17},{"c":"R6b","l":"pos","x":7.534,"y":125.9},{"c":"R6b","l":"pos","x":7.527,"y":126.17},{"c":"R6b","l":"pos","x":7.5219,"y":126.9},{"c":"R6b","l":"pos","x":7.520,"y":127.9},
{"c":"D6c","l":"pos2","x":7.528,"y":127.9},{"c":"D6c","l":"pos2","x":7.5288,"y":128.55},{"c":"D6c","l":"pos2","x":7.531,"y":129.03},{"c":"D6c","l":"pos2","x":7.534,"y":129.2},{"c":"D6c","l":"pos2","x":7.537,"y":129.03},{"c":"D6c","l":"pos2","x":7.5392,"y":128.55},{"c":"D6c","l":"pos2","x":7.540,"y":127.9},{"c":"D6c","l":"pos2","x":7.5392,"y":127.25},{"c":"D6c","l":"pos2","x":7.537,"y":126.77},{"c":"D6c","l":"pos2","x":7.534,"y":126.6},{"c":"D6c","l":"pos2","x":7.531,"y":126.77},{"c":"D6c","l":"pos2","x":7.5288,"y":127.25},{"c":"D6c","l":"pos2","x":7.528,"y":127.9},
{"c":"B7o","l":"neg","x":7.433,"y":127.70},{"c":"B7o","l":"neg","x":7.447,"y":128.02},{"c":"B7o","l":"neg","x":7.456,"y":128.60},{"c":"B7o","l":"neg","x":7.462,"y":129.24},{"c":"B7o","l":"neg","x":7.465,"y":129.88},{"c":"B7o","l":"neg","x":7.460,"y":130.52},{"c":"B7o","l":"neg","x":7.447,"y":131.01},{"c":"B7o","l":"neg","x":7.442,"y":131.65},{"c":"B7o","l":"neg","x":7.431,"y":131.97},{"c":"B7o","l":"neg","x":7.419,"y":131.81},{"c":"B7o","l":"neg","x":7.417,"y":130.85},{"c":"B7o","l":"neg","x":7.417,"y":129.24},{"c":"B7o","l":"neg","x":7.419,"y":128.30},{"c":"B7o","l":"neg","x":7.426,"y":127.80},{"c":"B7o","l":"neg","x":7.433,"y":127.70},
{"c":"B7i","l":"neg","x":7.433,"y":129.08},{"c":"B7i","l":"neg","x":7.437,"y":129.6},{"c":"B7i","l":"neg","x":7.436,"y":130.3},{"c":"B7i","l":"neg","x":7.431,"y":130.52},{"c":"B7i","l":"neg","x":7.428,"y":130.0},{"c":"B7i","l":"neg","x":7.428,"y":129.4},{"c":"B7i","l":"neg","x":7.433,"y":129.08},
{"c":"R7o","l":"pos","x":7.382,"y":125.87},{"c":"R7o","l":"pos","x":7.364,"y":126.03},{"c":"R7o","l":"pos","x":7.350,"y":126.35},{"c":"R7o","l":"pos","x":7.336,"y":126.68},{"c":"R7o","l":"pos","x":7.329,"y":126.52},{"c":"R7o","l":"pos","x":7.322,"y":127.16},{"c":"R7o","l":"pos","x":7.313,"y":127.06},{"c":"R7o","l":"pos","x":7.299,"y":127.32},{"c":"R7o","l":"pos","x":7.285,"y":127.48},{"c":"R7o","l":"pos","x":7.276,"y":127.32},{"c":"R7o","l":"pos","x":7.267,"y":127.64},{"c":"R7o","l":"pos","x":7.253,"y":127.48},{"c":"R7o","l":"pos","x":7.244,"y":127.80},{"c":"R7o","l":"pos","x":7.225,"y":127.96},{"c":"R7o","l":"pos","x":7.216,"y":127.80},{"c":"R7o","l":"pos","x":7.204,"y":128.12},{"c":"R7o","l":"pos","x":7.216,"y":128.28},{"c":"R7o","l":"pos","x":7.225,"y":128.60},{"c":"R7o","l":"pos","x":7.239,"y":128.92},{"c":"R7o","l":"pos","x":7.248,"y":129.56},{"c":"R7o","l":"pos","x":7.267,"y":130.04},{"c":"R7o","l":"pos","x":7.285,"y":130.37},{"c":"R7o","l":"pos","x":7.299,"y":130.85},{"c":"R7o","l":"pos","x":7.313,"y":131.01},{"c":"R7o","l":"pos","x":7.331,"y":130.85},{"c":"R7o","l":"pos","x":7.350,"y":131.49},{"c":"R7o","l":"pos","x":7.364,"y":131.97},{"c":"R7o","l":"pos","x":7.377,"y":132.45},{"c":"R7o","l":"pos","x":7.396,"y":132.77},{"c":"R7o","l":"pos","x":7.405,"y":132.45},{"c":"R7o","l":"pos","x":7.410,"y":131.17},{"c":"R7o","l":"pos","x":7.410,"y":129.56},{"c":"R7o","l":"pos","x":7.407,"y":127.64},{"c":"R7o","l":"pos","x":7.401,"y":126.35},{"c":"R7o","l":"pos","x":7.382,"y":125.87},
{"c":"D7a","l":"pos2","x":7.396,"y":126.35},{"c":"D7a","l":"pos2","x":7.373,"y":126.68},{"c":"D7a","l":"pos2","x":7.357,"y":127.3},{"c":"D7a","l":"pos2","x":7.343,"y":127.96},{"c":"D7a","l":"pos2","x":7.329,"y":128.5},{"c":"D7a","l":"pos2","x":7.322,"y":129.2},{"c":"D7a","l":"pos2","x":7.331,"y":129.72},{"c":"D7a","l":"pos2","x":7.340,"y":130.3},{"c":"D7a","l":"pos2","x":7.357,"y":131.17},{"c":"D7a","l":"pos2","x":7.377,"y":131.81},{"c":"D7a","l":"pos2","x":7.396,"y":131.81},{"c":"D7a","l":"pos2","x":7.403,"y":131.0},{"c":"D7a","l":"pos2","x":7.405,"y":129.56},{"c":"D7a","l":"pos2","x":7.403,"y":127.64},{"c":"D7a","l":"pos2","x":7.396,"y":126.35},
{"c":"R7b","l":"pos","x":7.356,"y":129.3},{"c":"R7b","l":"pos","x":7.3589,"y":130.58},{"c":"R7b","l":"pos","x":7.367,"y":131.51},{"c":"R7b","l":"pos","x":7.378,"y":131.85},{"c":"R7b","l":"pos","x":7.389,"y":131.51},{"c":"R7b","l":"pos","x":7.3971,"y":130.58},{"c":"R7b","l":"pos","x":7.400,"y":129.3},{"c":"R7b","l":"pos","x":7.3971,"y":128.03},{"c":"R7b","l":"pos","x":7.389,"y":127.09},{"c":"R7b","l":"pos","x":7.378,"y":126.75},{"c":"R7b","l":"pos","x":7.367,"y":127.09},{"c":"R7b","l":"pos","x":7.3589,"y":128.03},{"c":"R7b","l":"pos","x":7.356,"y":129.3},
{"c":"D7c","l":"pos2","x":7.368,"y":129.4},{"c":"D7c","l":"pos2","x":7.3693,"y":130.35},{"c":"D7c","l":"pos2","x":7.3745,"y":131.05},{"c":"D7c","l":"pos2","x":7.381,"y":131.3},{"c":"D7c","l":"pos2","x":7.3875,"y":131.05},{"c":"D7c","l":"pos2","x":7.3923,"y":130.35},{"c":"D7c","l":"pos2","x":7.394,"y":129.4},{"c":"D7c","l":"pos2","x":7.3923,"y":128.45},{"c":"D7c","l":"pos2","x":7.3875,"y":127.75},{"c":"D7c","l":"pos2","x":7.381,"y":127.5},{"c":"D7c","l":"pos2","x":7.3745,"y":127.75},{"c":"D7c","l":"pos2","x":7.3693,"y":128.45},{"c":"D7c","l":"pos2","x":7.368,"y":129.4},
{"c":"D7d","l":"pos2","x":7.377,"y":129.4},{"c":"D7d","l":"pos2","x":7.3777,"y":130.0},{"c":"D7d","l":"pos2","x":7.3795,"y":130.44},{"c":"D7d","l":"pos2","x":7.382,"y":130.6},{"c":"D7d","l":"pos2","x":7.3845,"y":130.44},{"c":"D7d","l":"pos2","x":7.3863,"y":130.0},{"c":"D7d","l":"pos2","x":7.387,"y":129.4},{"c":"D7d","l":"pos2","x":7.3863,"y":128.8},{"c":"D7d","l":"pos2","x":7.3845,"y":128.36},{"c":"D7d","l":"pos2","x":7.382,"y":128.2},{"c":"D7d","l":"pos2","x":7.3795,"y":128.36},{"c":"D7d","l":"pos2","x":7.3777,"y":128.8},{"c":"D7d","l":"pos2","x":7.377,"y":129.4},
{"c":"B8a","l":"neg","x":7.528,"y":137.2},{"c":"B8a","l":"neg","x":7.5295,"y":137.6},{"c":"B8a","l":"neg","x":7.530,"y":137.95},{"c":"B8a","l":"neg","x":7.5295,"y":138.3},{"c":"B8a","l":"neg","x":7.528,"y":138.7},{"c":"B8a","l":"neg","x":7.5265,"y":138.3},{"c":"B8a","l":"neg","x":7.526,"y":137.95},{"c":"B8a","l":"neg","x":7.5265,"y":137.6},{"c":"B8a","l":"neg","x":7.528,"y":137.2},
{"c":"R8a","l":"pos","x":7.5035,"y":137.8},{"c":"R8a","l":"pos","x":7.5045,"y":138.9},{"c":"R8a","l":"pos","x":7.5073,"y":139.71},{"c":"R8a","l":"pos","x":7.511,"y":140.0},{"c":"R8a","l":"pos","x":7.5148,"y":139.71},{"c":"R8a","l":"pos","x":7.5175,"y":138.9},{"c":"R8a","l":"pos","x":7.5185,"y":137.8},{"c":"R8a","l":"pos","x":7.5175,"y":136.7},{"c":"R8a","l":"pos","x":7.5148,"y":135.89},{"c":"R8a","l":"pos","x":7.511,"y":135.6},{"c":"R8a","l":"pos","x":7.5073,"y":135.89},{"c":"R8a","l":"pos","x":7.5045,"y":136.7},{"c":"R8a","l":"pos","x":7.5035,"y":137.8},
{"c":"D8a","l":"pos2","x":7.507,"y":137.75},{"c":"D8a","l":"pos2","x":7.5075,"y":138.55},{"c":"D8a","l":"pos2","x":7.5088,"y":139.14},{"c":"D8a","l":"pos2","x":7.5105,"y":139.35},{"c":"D8a","l":"pos2","x":7.5123,"y":139.14},{"c":"D8a","l":"pos2","x":7.5135,"y":138.55},{"c":"D8a","l":"pos2","x":7.514,"y":137.75},{"c":"D8a","l":"pos2","x":7.5135,"y":136.95},{"c":"D8a","l":"pos2","x":7.5123,"y":136.36},{"c":"D8a","l":"pos2","x":7.5105,"y":136.15},{"c":"D8a","l":"pos2","x":7.5088,"y":136.36},{"c":"D8a","l":"pos2","x":7.5075,"y":136.95},{"c":"D8a","l":"pos2","x":7.507,"y":137.75},
{"c":"B8b","l":"neg","x":7.484,"y":136.5},{"c":"B8b","l":"neg","x":7.4855,"y":137.1},{"c":"B8b","l":"neg","x":7.486,"y":137.8},{"c":"B8b","l":"neg","x":7.4855,"y":138.5},{"c":"B8b","l":"neg","x":7.484,"y":139.0},{"c":"B8b","l":"neg","x":7.4825,"y":138.5},{"c":"B8b","l":"neg","x":7.482,"y":137.8},{"c":"B8b","l":"neg","x":7.4825,"y":137.1},{"c":"B8b","l":"neg","x":7.484,"y":136.5},
{"c":"R8b","l":"pos","x":7.451,"y":137.7},{"c":"R8b","l":"pos","x":7.4529,"y":138.93},{"c":"R8b","l":"pos","x":7.458,"y":139.82},{"c":"R8b","l":"pos","x":7.465,"y":140.15},{"c":"R8b","l":"pos","x":7.472,"y":139.82},{"c":"R8b","l":"pos","x":7.4771,"y":138.93},{"c":"R8b","l":"pos","x":7.479,"y":137.7},{"c":"R8b","l":"pos","x":7.4771,"y":136.48},{"c":"R8b","l":"pos","x":7.472,"y":135.58},{"c":"R8b","l":"pos","x":7.465,"y":135.25},{"c":"R8b","l":"pos","x":7.458,"y":135.58},{"c":"R8b","l":"pos","x":7.4529,"y":136.48},{"c":"R8b","l":"pos","x":7.451,"y":137.7},
{"c":"D8b","l":"pos2","x":7.474,"y":136.0},{"c":"D8b","l":"pos2","x":7.466,"y":136.3},{"c":"D8b","l":"pos2","x":7.461,"y":137.2},{"c":"D8b","l":"pos2","x":7.460,"y":137.9},{"c":"D8b","l":"pos2","x":7.461,"y":138.7},{"c":"D8b","l":"pos2","x":7.466,"y":139.2},{"c":"D8b","l":"pos2","x":7.474,"y":139.35},{"c":"D8b","l":"pos2","x":7.474,"y":136.0}
]
},
"layer": [
{
"data": {"name": "side"},
"mark": {"type": "line", "color": "#8B0000", "strokeWidth": 2, "clip": true},
"encoding": {
"x": {"field": "v", "type": "quantitative", "scale": {"domain": [0, 500], "range": [506, 6], "zero": false, "nice": false}, "axis": null},
"y": {"field": "y", "type": "quantitative", "scale": {"domain": [45.65, 145.67], "range": [15, 1054], "zero": false, "nice": false}, "axis": null},
"order": {"value": null}
}
},
{
"data": {"name": "top"},
"mark": {"type": "line", "color": "#8B0000", "strokeWidth": 1.6, "clip": true},
"encoding": {
"x": {"field": "x", "type": "quantitative", "scale": {"domain": [7.917, 3.82], "range": [511.6, 1993], "zero": false, "nice": false}, "axis": null},
"y": {"field": "v", "type": "quantitative", "scale": {"domain": [0, 11], "range": [11, 0], "zero": false, "nice": false}, "axis": null},
"order": {"value": null}
}
},
{
"data": {"name": "contours"},
"mark": {"type": "line", "strokeWidth": 2, "clip": true},
"encoding": {
"x": {"field": "x", "type": "quantitative", "scale": {"domain": [7.917, 3.82], "range": [511.6, 1993], "zero": false, "nice": false},
 "axis": {"orient": "bottom", "title": "f2 (ppm)", "grid": false,
  "values": [7.9,7.8,7.7,7.6,7.5,7.4,7.3,7.2,7.1,7.0,6.9,6.8,6.7,6.6,6.5,6.4,6.3,6.2,6.1,6.0,5.9,5.8,5.7,5.6,5.5,5.4,5.3,5.2,5.1,5.0,4.9,4.8,4.7,4.6,4.5,4.4,4.3,4.2,4.1,4.0,3.9],
  "labelExpr": "round(datum.value*10) % 2 === 0 ? format(datum.value, '.1f') : ''",
  "tickSize": {"condition": {"test": "round(datum.value*10) % 2 === 0", "value": 16}, "value": 8},
  "tickWidth": 2, "tickColor": "black", "domainColor": "black", "domainWidth": 2,
  "labelFont": "Liberation Serif", "labelFontSize": 31, "labelColor": "black", "labelPadding": 16, "labelOverlap": false, "labelFlush": false,
  "titleFont": "Liberation Serif", "titleFontSize": 31, "titleFontWeight": "normal", "titleColor": "black", "titlePadding": 2}},
"y": {"field": "y", "type": "quantitative", "scale": {"domain": [45.65, 145.67], "range": [15, 1054], "zero": false, "nice": false},
 "axis": {"orient": "right", "title": "f1 (ppm)", "grid": false,
  "values": [50,55,60,65,70,75,80,85,90,95,100,105,110,115,120,125,130,135,140,145],
  "labelExpr": "datum.value % 10 === 0 ? datum.label : ''",
  "tickSize": {"condition": {"test": "datum.value % 10 === 0", "value": 11}, "value": 6},
  "tickWidth": 2, "tickColor": "black", "domainColor": "black", "domainWidth": 2,
  "labelFont": "Liberation Serif", "labelFontSize": 31, "labelColor": "black", "labelPadding": 10, "labelOverlap": false, "labelFlush": false,
  "titleFont": "Liberation Serif", "titleFontSize": 31, "titleFontWeight": "normal", "titleColor": "black", "titleAngle": 270, "titlePadding": 75}},
"detail": {"field": "c", "type": "nominal"},
"color": {"field": "l", "type": "nominal", "scale": {"domain": ["neg", "pos", "pos2"], "range": ["#0000FF", "#FF0000", "#8B0000"]}, "legend": null},
"order": {"value": null}
}
}
],
"resolve": {"scale": {"x": "independent", "y": "independent"}, "axis": {"x": "independent", "y": "independent"}}
}
